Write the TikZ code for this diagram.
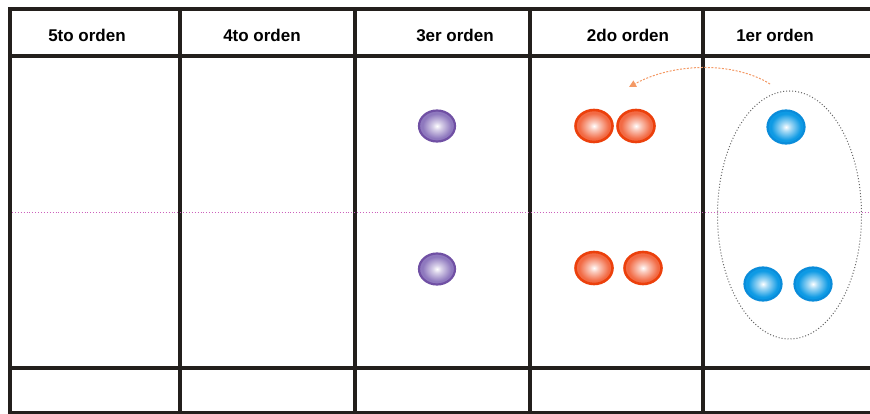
\documentclass[tikz,border=0pt]{standalone}
\usepackage{fontspec}
\setmainfont{Liberation Sans}
\usetikzlibrary{arrows.meta,shapes.geometric}
\definecolor{gridc}{HTML}{231F1C}
\definecolor{purp}{HTML}{8E78BE}
\definecolor{purpr}{HTML}{7050A4}
\definecolor{oran}{HTML}{F26A44}
\definecolor{oranr}{HTML}{EC400C}
\definecolor{blu}{HTML}{0E9AE4}
\definecolor{blur}{HTML}{0A8CDA}
\definecolor{magl}{HTML}{CC60BC}
\definecolor{arrc}{HTML}{F49A66}
\pgfdeclareradialshading{pshade}{\pgfpoint{0bp}{0bp}}{color(0bp)=(white); color(6bp)=(purp!35!white); color(20bp)=(purp); color(50bp)=(purp)}
\pgfdeclareradialshading{oshade}{\pgfpoint{0bp}{0bp}}{color(0bp)=(white); color(6bp)=(oran!35!white); color(20bp)=(oran); color(50bp)=(oran)}
\pgfdeclareradialshading{bshade}{\pgfpoint{0bp}{0bp}}{color(0bp)=(white); color(6bp)=(blu!35!white); color(20bp)=(blu); color(50bp)=(blu)}
\begin{document}
\begin{tikzpicture}[x=1pt,y=-1pt,
  grid/.style={gridc,line width=4pt},
  head/.style={font=\bfseries\fontsize{17}{20}\selectfont,inner sep=0pt},
  pball/.style={ellipse,minimum width=36pt,minimum height=31pt,inner sep=0pt,draw=purpr,line width=2.2pt,shading=pshade},
  oball/.style={ellipse,minimum width=37pt,minimum height=32pt,inner sep=0pt,draw=oranr,line width=2.6pt,shading=oshade},
  bball/.style={ellipse,minimum width=37pt,minimum height=33pt,inner sep=0pt,draw=blur,line width=2.2pt,shading=bshade}]
\useasboundingbox (0,0) rectangle (870,414);
\fill[white] (0,0) rectangle (870,414);
% grid
\draw[grid] (870,9) -- (10,9) -- (10,414);
\draw[grid] (10,56) -- (870,56);
\draw[grid] (10,367.5) -- (870,367.5);
\draw[grid] (10,412.5) -- (870,412.5);
\foreach \x in {179.5,355,530,703} \draw[grid] (\x,9) -- (\x,414);
% headers
\node[head] (h5) at (87,35) {5to orden};
\node[head] (h4) at (262,35) {4to orden};
\node[head] (h3) at (455,35) {3er orden};
\node[head] (h2) at (628,35) {2do orden};
\node[head] (h1) at (775,35) {1er orden};
% magenta dotted midline
\draw[magl,dotted,line width=0.9pt] (12,212) -- (870,212);
% dotted ellipse
\node[ellipse,draw=gray!80!black,dotted,line width=1pt,minimum width=144pt,minimum height=248pt,inner sep=0pt] (grp) at (789.5,215) {};
% balls
\node[pball] (p1) at (437,126) {};
\node[pball] (p2) at (437,269) {};
\node[oball] (o1) at (594,126) {};
\node[oball] (o2) at (636,126) {};
\node[oball] (o3) at (594,268) {};
\node[oball] (o4) at (643,268) {};
\node[bball] (b1) at (786,127) {};
\node[bball] (b2) at (763,284) {};
\node[bball] (b3) at (813,284) {};
% arrow
\coordinate (as) at (770,84);
\coordinate (ae) at (629,87);
\draw[arrc,dashed,dash pattern=on 2pt off 1.5pt,line width=1pt,-{Triangle[length=7pt,width=7pt]}] (as) .. controls (735,62) and (675,62) .. (ae);
\end{tikzpicture}
\end{document}
